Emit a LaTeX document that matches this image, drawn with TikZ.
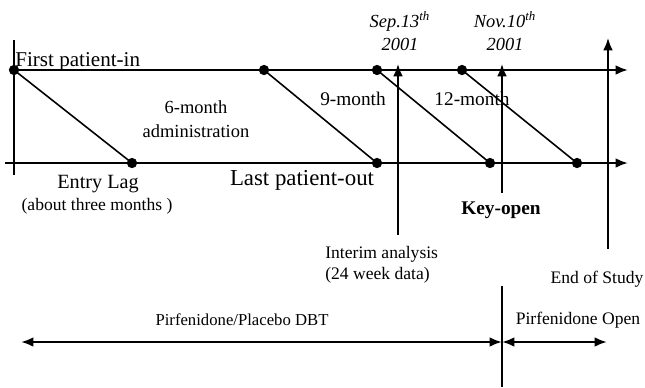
\documentclass[tikz,border=0pt]{standalone}
\usepackage{fontspec}
\setmainfont{Liberation Serif}
\usetikzlibrary{arrows.meta}

\begin{document}
\begin{tikzpicture}[x=0.02cm, y=-0.02cm, >={Latex[length=7pt, width=5.5pt]},
    dot/.style={draw, circle, fill=black, inner sep=0pt, minimum size=0.19cm},
    axis/.style={line width=1.3pt},
    lag/.style={line width=0.9pt},
    mark line/.style={line width=1pt},
    lbl/.style={inner sep=0pt, font=\fontsize{10.5}{12}\selectfont},
    small/.style={inner sep=0pt, font=\fontsize{10}{11}\selectfont}]

    \useasboundingbox (0,0) rectangle (645,387);

    % axis ends
    \coordinate (A0) at (14,40);
    \coordinate (A1) at (14,175);
    \coordinate (T0) at (14,70);
    \coordinate (T1) at (628,70);
    \coordinate (B0) at (5,163);
    \coordinate (B1) at (628,163);

    % enrolment dots
    \node [dot] (P1) at (14,70) {};
    \node [dot] (P2) at (264,70) {};
    \node [dot] (P3) at (377,70) {};
    \node [dot] (P4) at (462,70) {};
    \node [dot] (Q1) at (132,163) {};
    \node [dot] (Q2) at (377,163) {};
    \node [dot] (Q3) at (490,163) {};
    \node [dot] (Q4) at (577,163) {};

    \draw [mark line] (A0) -- (A1);
    \draw [axis, ->] (T0) -- (T1);
    \draw [axis, ->] (B0) -- (B1);

    \foreach \i in {1,...,4} {
        \draw [lag] (P\i.center) -- (Q\i.center);
    }

    % milestones
    \coordinate (I0) at (398,64);
    \coordinate (I1) at (398,235);
    \coordinate (K0) at (502,64);
    \coordinate (K1) at (502,193);
    \coordinate (K2) at (502,286);
    \coordinate (K3) at (502,387);
    \coordinate (E0) at (608,38);
    \coordinate (E1) at (608,249);
    \draw [mark line, <-] (I0) -- (I1);
    \draw [mark line, <-] (K0) -- (K1);
    \draw [mark line] (K2) -- (K3);
    \draw [mark line, <-] (E0) -- (E1);

    % treatment periods
    \coordinate (D0) at (21,342);
    \coordinate (D1) at (502,342);
    \coordinate (D2) at (607,342);
    \draw [axis, <->] (D0) -- (D1);
    \draw [axis, <->] (D1) -- (D2);

    % labels
    \node [lbl, anchor=base west, font=\fontsize{12}{14}\selectfont] (first) at (15,66) {First patient-in};
    \node [lbl, align=center, font=\itshape\fontsize{10.5}{13.5}\selectfont] (sep) at (400,31) {Sep.13\textsuperscript{th}\\2001};
    \node [lbl, align=center, font=\itshape\fontsize{10.5}{13.5}\selectfont] (nov) at (505,31) {Nov.10\textsuperscript{th}\\2001};
    \node [lbl, align=center, font=\fontsize{10.5}{14}\selectfont] (six) at (196,119) {6-month\\administration};
    \node [lbl, font=\fontsize{11}{12}\selectfont] (nine) at (353,99) {9-month};
    \node [lbl, font=\fontsize{11}{12}\selectfont] (twelve) at (472,99) {12-month};
    \node [lbl, font=\fontsize{11.5}{13}\selectfont] (entry) at (98,184) {Entry Lag};
    \node [small] (about) at (97,206) {(about three months )};
    \node [lbl, font=\fontsize{13}{14}\selectfont] (last) at (302,180) {Last patient-out};
    \node [lbl, font=\bfseries\fontsize{11}{12}\selectfont] (key) at (501,210) {Key-open};
    \node [small, align=left, anchor=west, font=\fontsize{10}{12}\selectfont] (interim) at (325,265) {Interim analysis\\(24 week data)};
    \node [small] (end) at (597,279) {End of Study};
    \node [small, font=\fontsize{9.5}{11}\selectfont] (dbt) at (242,320) {Pirfenidone/Placebo DBT};
    \node [small] (open) at (578,320) {Pirfenidone Open};

\end{tikzpicture}
\end{document}
